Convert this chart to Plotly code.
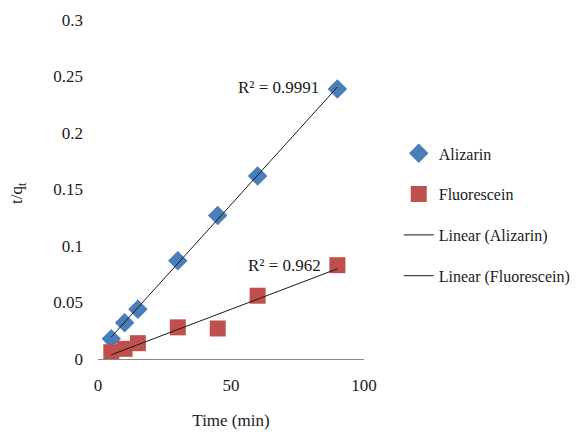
import numpy as np
import plotly.graph_objects as go

time_min = [5, 10, 15, 30, 45, 60, 90]
alizarin = [0.018, 0.032, 0.044, 0.087, 0.127, 0.162, 0.239]
fluorescein = [0.006, 0.009, 0.014, 0.028, 0.027, 0.056, 0.083]
x_ticks = [0, 50, 100]
y_ticks = [0, 0.05, 0.1, 0.15, 0.2, 0.25, 0.3]
y_tick_labels = ["0", "0.05", "0.1", "0.15", "0.2", "0.25", "0.3"]
r2_alizarin = "R² = 0.9991"
r2_fluorescein = "R² = 0.962"

FONT = "Liberation Serif, Times New Roman, serif"
FS = 17
BLUE = "#4a7ebb"
RED = "#c0504d"
INK = "#1a1a1a"

xs = np.array(time_min, dtype=float)
fit_x = [xs.min(), xs.max()]
a1, b1 = np.polyfit(xs, alizarin, 1)
a2, b2 = np.polyfit(xs, fluorescein, 1)

fig = go.Figure()
fig.add_trace(go.Scatter(x=time_min, y=alizarin, mode="markers", name="Alizarin",
                         marker=dict(symbol="diamond", size=15, color=BLUE),
                         legendgroup="a"))
fig.add_trace(go.Scatter(x=time_min, y=fluorescein, mode="markers", name="Fluorescein",
                         marker=dict(symbol="square", size=16, color=RED),
                         legendgroup="b"))
fig.add_trace(go.Scatter(x=fit_x, y=[a1 * v + b1 for v in fit_x], mode="lines",
                         name="Linear (Alizarin)", line=dict(color=INK, width=1),
                         legendgroup="c"))
fig.add_trace(go.Scatter(x=fit_x, y=[a2 * v + b2 for v in fit_x], mode="lines",
                         name="Linear (Fluorescein)", line=dict(color=INK, width=1),
                         legendgroup="d"))

fig.add_annotation(x=83.7, y=0.240, xref="x", yref="y", text=r2_alizarin, showarrow=False,
                   xanchor="right", font=dict(family=FONT, size=FS, color=INK))
fig.add_annotation(x=84.6, y=0.083, xref="x", yref="y", text=r2_fluorescein, showarrow=False,
                   xanchor="right", font=dict(family=FONT, size=FS, color=INK))
fig.add_annotation(x=0, y=0.49, xref="paper", yref="paper", xshift=-80,
                   xanchor="center", yanchor="middle",
                   text="t/q<sub>t</sub>", showarrow=False, textangle=-90,
                   font=dict(family=FONT, size=FS, color=INK))

fig.update_layout(
    width=578, height=428,
    margin=dict(l=90, r=222, t=12, b=77),
    paper_bgcolor="white", plot_bgcolor="white",
    font=dict(family=FONT, size=FS, color=INK),
    showlegend=True,
    legend=dict(xref="container", yref="container", x=0.676, y=0.70,
                xanchor="left", yanchor="top",
                tracegroupgap=17, font=dict(family=FONT, size=16, color=INK),
                itemwidth=30),
    xaxis=dict(range=[0, 100], tickvals=x_ticks, showgrid=False, zeroline=False,
               showline=False, ticks="", ticklabelstandoff=14, automargin=False,
               title=dict(text="Time (min)", standoff=20, font=dict(family=FONT, size=FS))),
    yaxis=dict(range=[0, 0.3], tickvals=y_ticks, ticktext=y_tick_labels, showgrid=False,
               zeroline=True, zerolinecolor="#888", zerolinewidth=1,
               showline=False, ticks="", ticklabelstandoff=14, automargin=False),
)

fig.write_html("out.html")
